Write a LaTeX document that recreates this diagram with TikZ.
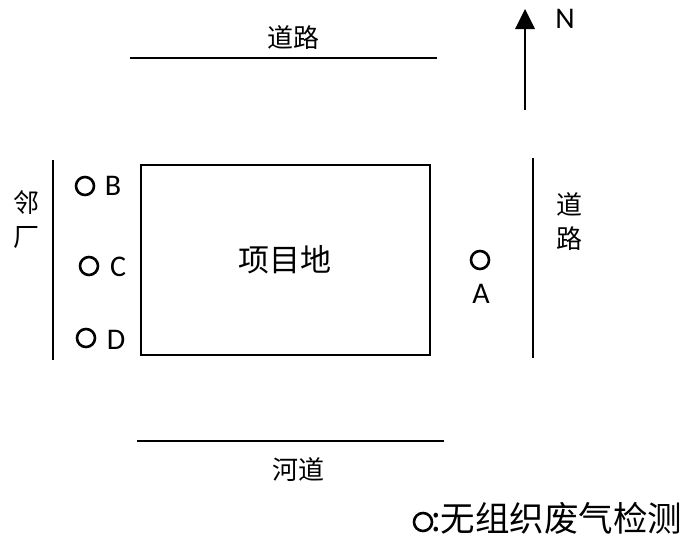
\documentclass[tikz,border=0pt]{standalone}
\usepackage{fontspec}
\setmainfont{Carlito}
\newfontfamily\cjk{Noto Sans CJK SC}
\begin{document}
\begin{tikzpicture}[x=1pt,y=-1pt,
  road/.style={line width=2.2pt},
  pt/.style={circle,draw,line width=2.6pt,minimum size=18pt,inner sep=0pt},
  lab/.style={font=\fontsize{30}{32}\selectfont,inner sep=0pt},
  cn/.style={font=\cjk\fontsize{26}{28}\selectfont,inner sep=0pt}]
\useasboundingbox (0,0) rectangle (687,541);
% roads
\coordinate (t1) at (130,58); \coordinate (t2) at (437,58);
\draw[road] (t1) -- (t2);
\node[cn] (troad) at (293,38) {道路};
\coordinate (l1) at (53,160); \coordinate (l2) at (53,360);
\draw[road] (l1) -- (l2);
\node[cn,align=center] (nb) at (26,220) {邻\\[6pt]厂};
\coordinate (r1) at (533,158); \coordinate (r2) at (533,358);
\draw[road] (r1) -- (r2);
\node[cn,align=center] (rroad) at (569,222) {道\\[6pt]路};
\coordinate (b1) at (137,441); \coordinate (b2) at (444,441);
\draw[road] (b1) -- (b2);
\node[cn] (river) at (298,470) {河道};
% north arrow
\coordinate (n1) at (525,110); \coordinate (n2) at (525,9);
\draw[line width=2.2pt] (n1) -- (525,26);
\fill (515,29) -- (n2) -- (535,29) -- cycle;
\node[lab] (N) at (565,19) {N};
% site
\node[draw,line width=2pt,minimum width=289pt,minimum height=190pt,inner sep=0pt] (site) at (285.5,260) {};
\node[font=\cjk\fontsize{31}{33}\selectfont,inner sep=0pt] (sl) at (285,260) {项目地};
% points
\node[pt] (pB) at (85,186) {}; \node[lab] (lB) at (113,186) {B};
\node[pt] (pC) at (89,266) {}; \node[lab] (lC) at (118,267) {C};
\node[pt] (pD) at (86,338) {}; \node[lab] (lD) at (116,340) {D};
\node[pt] (pA) at (480,260) {}; \node[lab] (lA) at (481,294) {A};
% legend
\node[pt] (lg) at (423,522) {};
\node[cn,font=\cjk\fontsize{34.5}{36}\selectfont,anchor=west] (lgt) at (431,518) {:无组织废气检测};
\end{tikzpicture}
\end{document}
